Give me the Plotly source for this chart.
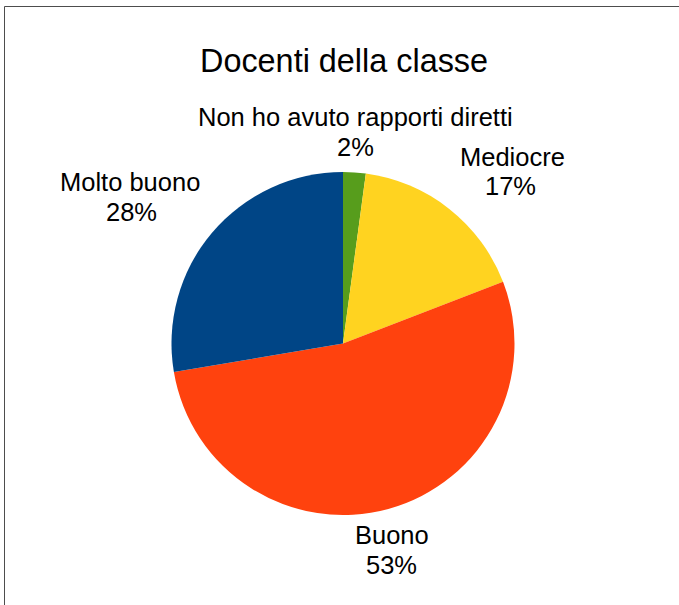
import math
import plotly.graph_objects as go

labels = ["Non ho avuto rapporti diretti", "Mediocre", "Buono", "Molto buono"]
counts = [1, 8, 25, 13]
colors = ["#579d1c", "#ffd320", "#ff420e", "#004586"]
title_text = "Docenti della classe"

W, H = 679, 605
cx, cy, r = 343, 343.5, 171.5  # pixel (y down)

fig = go.Figure(go.Pie(
    labels=labels, values=counts, sort=False, direction="clockwise",
    rotation=0, textinfo="none", hoverinfo="label+percent",
    marker=dict(colors=colors, line=dict(width=0)),
    domain=dict(x=[(cx - r) / W, (cx + r) / W], y=[(H - cy - r) / H, (H - cy + r) / H]),
    showlegend=False,
))

total = sum(counts)
cum = 0
ann = []
R = r * 1.08
LINE = 29.5
FONT = dict(family="Liberation Sans", size=25.5, color="#000000")
for lab, v in zip(labels, counts):
    frac_mid = (cum + v / 2) / total
    cum += v
    theta = 2 * math.pi * frac_mid  # clockwise from top
    s, c = math.sin(theta), math.cos(theta)
    px = cx + R * s
    py = cy - R * c
    if abs(s) < 0.3:
        xa = "center"
    elif s > 0:
        xa = "left"
    else:
        xa = "right"
    pct = round(v / total * 100)
    if c > 0:
        y_pct = py - 12
        y_name = y_pct - LINE
    else:
        y_name = py + 13
        y_pct = y_name + LINE
    # the block is centred on the widest line; align the percent line to the name line's centre
    ann.append(dict(x=px / W, y=1 - y_name / H, xref="paper", yref="paper",
                    text=lab, showarrow=False, xanchor=xa, yanchor="middle", font=FONT))
    ann.append(dict(x=px / W, y=1 - y_pct / H, xref="paper", yref="paper",
                    text=f"{pct}%", showarrow=False, xanchor=xa, yanchor="middle", font=FONT,
                    name=lab))

# centre the percent line under the name line for left/right anchored labels
fixed = []
for i in range(0, len(ann), 2):
    a_name, a_pct = ann[i], ann[i + 1]
    if a_name["xanchor"] != "center":
        # approximate name width from the text (Arial-like metrics)
        widths = {'M': 833, 'o': 556, 'l': 222, 't': 278, ' ': 278, 'b': 556, 'u': 556,
                  'n': 556, 'e': 556, 'd': 556, 'i': 222, 'c': 500, 'r': 333, 'B': 667}
        wpx = sum(widths.get(ch, 556) for ch in a_name["text"]) / 1000 * FONT["size"]
        sign = 1 if a_name["xanchor"] == "left" else -1
        a_pct["x"] = a_name["x"] + sign * (wpx / 2) / W
        a_pct["xanchor"] = "center"
    a_pct.pop("name", None)
    fixed += [a_name, a_pct]
ann = fixed

ann.append(dict(x=344 / W, y=1 - 61 / H, xref="paper", yref="paper", text=title_text,
                showarrow=False, xanchor="center", yanchor="middle",
                font=dict(family="Liberation Sans", size=32.4, color="#000000")))

fig.update_layout(
    width=W, height=H, margin=dict(l=0, r=0, t=0, b=0),
    paper_bgcolor="#ffffff", plot_bgcolor="#ffffff",
    annotations=ann,
    shapes=[dict(type="rect", xref="paper", yref="paper",
                 x0=4.5 / W, x1=1.05, y0=-0.05, y1=1 - 6.5 / H,
                 line=dict(color="#4d4d4d", width=1), fillcolor="rgba(0,0,0,0)")],
)

fig.write_html("out.html", post_script="document.body.style.margin='0';",
               config={"displayModeBar": False})
